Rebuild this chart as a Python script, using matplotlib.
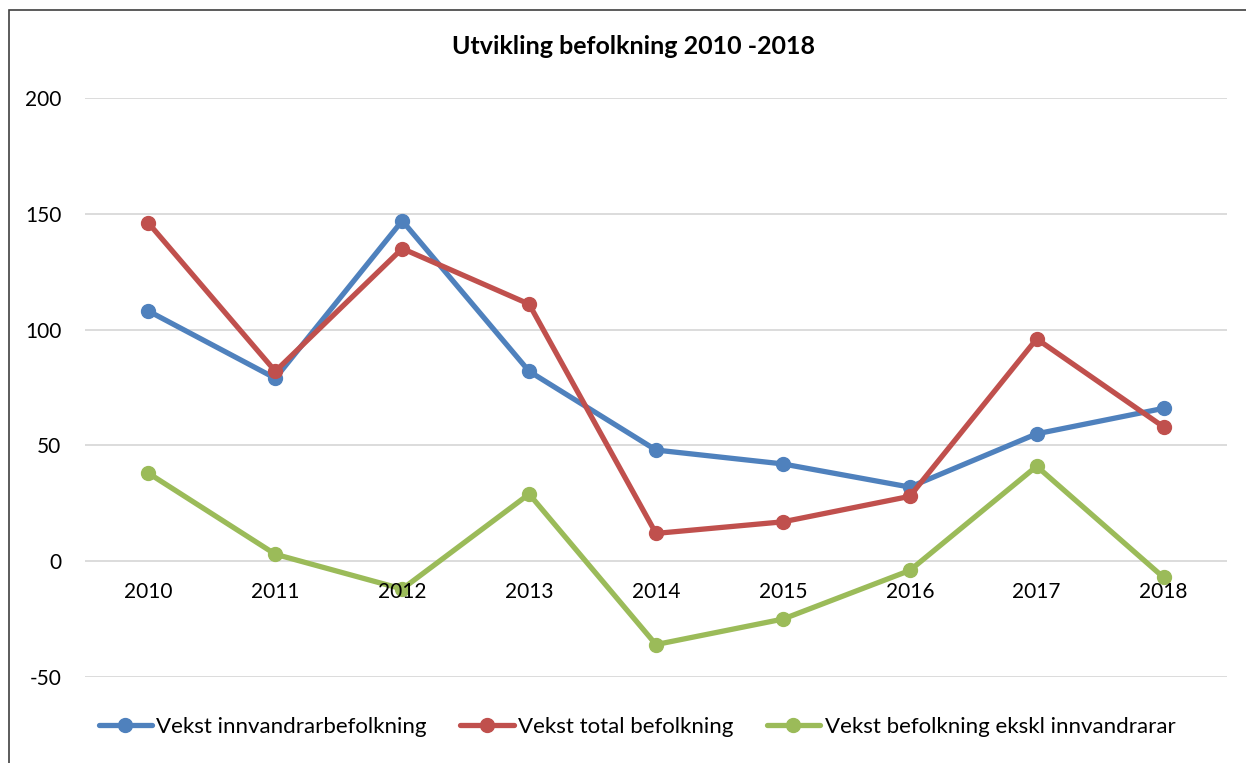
import numpy as np
import matplotlib
matplotlib.use("Agg")
import matplotlib.pyplot as plt
from matplotlib.patches import Rectangle
from matplotlib.transforms import offset_copy

plt.rcParams['font.family'] = ['Lato', 'DejaVu Sans']

years = ['2010', '2011', '2012', '2013', '2014', '2015', '2016', '2017', '2018']
vekst_innvandrar = [108, 79, 147, 82, 48, 42, 32, 55, 66]
vekst_total = [146, 82, 135, 111, 12, 17, 28, 96, 58]
vekst_ekskl = [38, 3, -12, 29, -36, -25, -4, 41, -7]

series = [
    ('Vekst innvandrarbefolkning', vekst_innvandrar, '#4F81BD'),
    ('Vekst total befolkning', vekst_total, '#C0504D'),
    ('Vekst befolkning ekskl innvandrarar', vekst_ekskl, '#9BBB59'),
]

W, H = 1246, 763
fig = plt.figure(figsize=(W / 100, H / 100), dpi=100)
ax = fig.add_axes([85 / W, (H - 677) / H, (1227 - 85) / W, (677 - 98) / H])

x = np.arange(len(years))
for name, vals, col in series:
    ax.plot(x, vals, color=col, lw=3.8, marker='o', ms=10,
            solid_capstyle='round', label=name, zorder=3)

ax.set_xlim(-0.5, len(years) - 0.5)
ax.set_ylim(-50, 200)
ax.set_yticks(np.arange(-50, 201, 50))
ax.set_yticklabels([str(v) for v in range(-50, 201, 50)])
ax.yaxis.grid(True, color='#D9D9D9', lw=1.3)
ax.set_axisbelow(True)
ax.tick_params(axis='y', length=0, pad=17, labelsize=15)
ax.set_xticks([])
for s in ax.spines.values():
    s.set_visible(False)

# category labels sit just under the zero line
lab_tr = offset_copy(ax.transData, fig=fig, x=0, y=-22.5, units='points')
for i, yr in enumerate(years):
    ax.text(i, 0, yr, transform=lab_tr, ha='center', va='center', fontsize=15)

fig.text(633 / W, 1 - 47 / H, 'Utvikling befolkning 2010 -2018',
         ha='center', va='center', fontsize=18, fontweight='bold')

fig.legend(loc='center', bbox_to_anchor=(637 / W, 1 - 727 / H), ncol=3,
           frameon=False, fontsize=16, handlelength=2.4, handletextpad=0.2,
           columnspacing=1.5)

# chart-area border
fig.patches.append(Rectangle((9 / W, -0.05), 1.2, 1 - 10 / H + 0.05,
                             transform=fig.transFigure, fill=False,
                             edgecolor='#404040', lw=1.2))

fig.savefig('out.png', dpi=100)
